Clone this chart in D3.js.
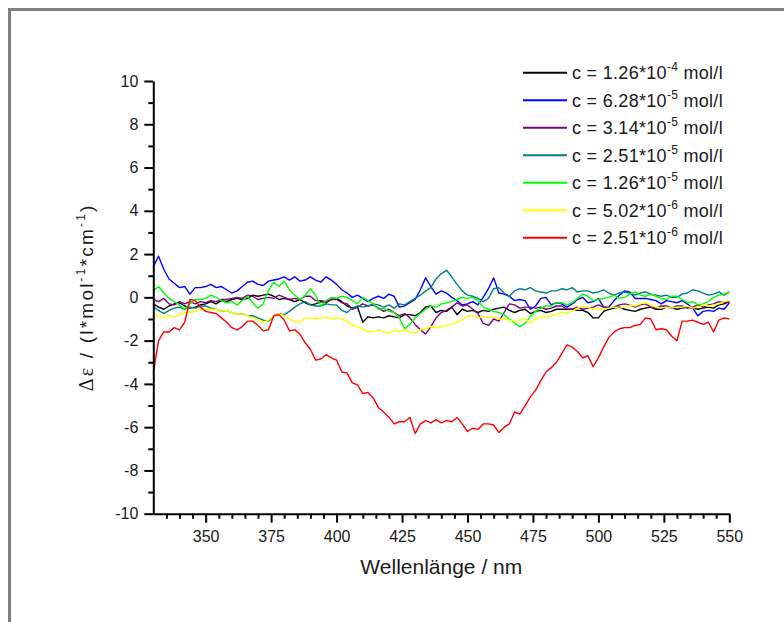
<!DOCTYPE html>
<html>
<head>
<meta charset="utf-8">
<script src="https://cdn.jsdelivr.net/npm/d3@7"></script>
<style>
  html, body { margin: 0; padding: 0; background: #ffffff; }
  svg { display: block; }
  text { font-family: "Liberation Sans", Arial, sans-serif; fill: #1a1a1a; }
</style>
</head>
<body>
<svg id="chart" width="784" height="622"></svg>
<script>
// ---------- data ----------
const wavelengths = d3.range(330, 551, 2); // nm, 330 ... 550

const c126e4 = [
  -0.3,-0.45,-0.55,-0.4,-0.3,-0.25,-0.4,-0.5,-0.45,-0.35,
  -0.3,-0.2,-0.3,-0.15,-0.2,-0.1,-0.05,-0.1,-0.05,0.1,
  0.05,0.1,0.15,0.05,-0.1,-0.05,-0.1,-0.2,-0.1,-0.25,
  -0.35,-0.3,-0.2,-0.25,-0.1,-0.05,-0.2,-0.4,-0.5,-0.45,
  -1.15,-0.9,-0.95,-0.9,-0.95,-0.85,-0.9,-0.95,-0.8,-0.8,
  -0.85,-0.7,-0.45,-0.4,-0.7,-0.6,-0.65,-0.45,-0.8,-0.55,
  -0.65,-0.6,-0.7,-0.6,-0.65,-0.55,-0.5,-0.45,-0.6,-0.7,
  -0.6,-0.55,-0.75,-0.65,-0.6,-0.7,-0.65,-0.55,-0.55,-0.55,
  -0.55,-0.6,-0.6,-0.7,-0.95,-0.95,-0.65,-0.55,-0.5,-0.45,
  -0.55,-0.6,-0.65,-0.55,-0.5,-0.45,-0.55,-0.55,-0.45,-0.5,
  -0.55,-0.5,-0.45,-0.5,-0.55,-0.5,-0.45,-0.5,-0.35,-0.3,
  -0.2
];
const c628e5 = [
  1.4,1.9,1.3,0.85,0.65,0.45,0.5,0.15,0.45,0.45,
  0.5,0.6,0.45,0.5,0.35,0.2,0.3,0.5,0.7,0.75,
  0.6,0.55,0.75,0.8,0.85,0.95,0.8,0.95,0.75,0.8,
  0.95,0.8,0.7,0.95,0.8,0.6,0.35,0.2,0.0,0.1,
  -0.05,-0.2,-0.05,0.05,-0.05,0.15,0.05,-0.45,-0.4,-0.25,
  -0.1,0.35,0.9,0.5,0.15,0.3,0.2,0.0,-0.15,-0.35,
  -0.3,-0.2,-0.35,0.0,0.4,0.9,0.2,0.15,0.05,-0.15,
  -0.1,-0.15,-0.55,-0.4,-0.05,0.0,-0.35,-0.25,-0.3,-0.45,
  -0.3,-0.1,0.0,-0.25,-0.2,-0.05,-0.45,-0.45,-0.15,0.1,
  0.3,0.25,-0.05,-0.05,-0.05,-0.1,-0.15,-0.3,-0.15,-0.2,
  -0.25,-0.15,-0.3,-0.5,-0.85,-0.65,-0.6,-0.65,-0.5,-0.55,
  -0.25
];
const c314e5 = [
  -0.1,-0.2,-0.05,-0.3,-0.35,-0.2,-0.3,-0.2,-0.3,-0.2,
  -0.25,-0.15,-0.2,-0.1,-0.1,-0.05,0.0,-0.05,0.1,0.05,
  -0.1,-0.05,0.0,-0.05,0.1,0.0,-0.1,-0.05,-0.1,0.05,
  0.05,-0.15,-0.15,-0.2,-0.1,-0.1,-0.25,-0.3,-0.55,-0.45,
  -0.3,-0.4,-0.35,-0.5,-0.65,-0.55,-0.7,-0.85,-0.75,-0.95,
  -1.25,-1.5,-1.7,-1.35,-0.95,-0.7,-0.6,-0.45,-0.25,-0.4,
  -0.35,-0.55,-0.75,-1.2,-1.3,-1.0,-1.1,-0.7,-0.3,-0.35,
  -0.5,-0.45,-0.45,-0.5,-0.45,-0.55,-0.5,-0.4,-0.4,-0.55,
  -0.55,-0.45,-0.55,-0.5,-0.45,-0.35,-0.45,-0.5,-0.45,-0.35,
  -0.3,-0.35,-0.45,-0.35,-0.3,-0.45,-0.5,-0.4,-0.4,-0.5,
  -0.4,-0.4,-0.5,-0.45,-0.35,-0.45,-0.35,-0.3,-0.2,-0.25,
  -0.2
];
const c251e5 = [
  -0.45,-0.6,-0.75,-0.6,-0.5,-0.45,-0.55,-0.45,-0.5,-0.4,
  -0.4,-0.5,-0.55,-0.65,-0.6,-0.7,-0.8,-0.75,-0.85,-0.85,
  -0.95,-1.05,-1.1,-0.85,-0.75,-0.8,-0.65,-0.45,-0.3,-0.2,
  -0.35,-0.4,-0.4,-0.3,-0.35,-0.35,-0.6,-0.7,-0.5,-0.4,
  -0.45,-0.4,-0.3,-0.35,-0.45,-0.35,-0.5,-0.3,-0.35,-0.2,
  -0.05,0.1,0.3,0.45,0.85,1.1,1.25,0.95,0.6,0.3,
  0.1,0.05,-0.05,-0.2,-0.05,0.4,0.45,0.2,0.05,0.3,
  0.4,0.35,0.45,0.3,0.25,0.2,0.3,0.3,0.4,0.35,
  0.45,0.25,0.3,0.3,0.2,0.25,0.35,0.2,0.1,0.2,
  0.25,0.2,0.1,0.2,0.25,0.15,0.1,0.05,0.1,0.0,
  0.0,0.15,0.2,0.35,0.3,0.2,0.1,0.15,0.25,0.1,
  0.25
];
const c126e5 = [
  0.3,0.5,0.2,-0.05,-0.2,-0.35,-0.55,-0.3,-0.1,-0.1,
  -0.05,0.1,0.0,-0.15,-0.25,-0.2,-0.35,-0.15,0.05,-0.25,
  -0.5,-0.3,0.3,0.7,0.5,0.75,0.35,0.1,-0.1,0.1,
  0.4,0.1,-0.4,-0.15,0.0,-0.05,0.05,0.0,-0.15,-0.3,
  0.0,-0.15,-0.3,-0.55,-0.5,-0.65,-0.7,-0.95,-1.45,-1.25,
  -0.95,-0.75,-0.55,-0.4,-0.45,-0.3,-0.25,-0.2,-0.1,0.0,
  -0.05,0.0,-0.15,-0.45,-0.55,-0.65,-0.7,-0.8,-1.0,-1.2,
  -1.35,-1.2,-0.9,-0.65,-0.5,-0.4,-0.4,-0.25,-0.25,-0.35,
  -0.25,-0.05,0.15,0.05,-0.15,-0.1,-0.05,0.0,0.1,-0.05,
  0.0,0.15,0.25,0.1,0.05,0.15,0.05,-0.05,-0.1,0.05,
  0.05,-0.1,-0.25,-0.2,-0.35,-0.3,-0.2,0.0,0.1,0.15,
  0.25
];
const c502e6 = [
  -0.75,-0.9,-0.95,-0.85,-0.9,-0.8,-0.7,-0.7,-0.65,-0.55,
  -0.55,-0.55,-0.55,-0.65,-0.6,-0.7,-0.8,-0.75,-0.85,-0.95,
  -1.05,-1.15,-1.05,-0.85,-0.75,-0.85,-1.0,-1.1,-1.15,-0.95,
  -0.95,-1.0,-0.95,-0.9,-1.0,-0.95,-1.0,-1.1,-1.3,-1.35,
  -1.45,-1.6,-1.6,-1.5,-1.6,-1.65,-1.5,-1.6,-1.5,-1.6,
  -1.65,-1.5,-1.45,-1.35,-1.4,-1.35,-1.3,-1.25,-1.15,-1.05,
  -0.85,-0.85,-0.95,-0.9,-0.95,-0.9,-1.0,-1.0,-1.05,-1.1,
  -1.05,-1.0,-1.2,-1.0,-0.9,-0.95,-0.85,-0.8,-0.7,-0.7,
  -0.65,-0.5,-0.4,-0.45,-0.55,-0.5,-0.55,-0.5,-0.45,-0.5,
  -0.45,-0.35,-0.4,-0.3,-0.25,-0.35,-0.45,-0.5,-0.45,-0.5,
  -0.45,-0.45,-0.4,-0.5,-0.45,-0.35,-0.4,-0.35,-0.3,-0.2,
  -0.15
];
const c251e6 = [
  -3.5,-2.0,-1.6,-1.6,-1.4,-1.5,-1.15,-0.1,-0.15,-0.45,
  -0.65,-0.7,-0.75,-0.95,-1.15,-1.4,-1.5,-1.35,-1.1,-1.1,
  -1.3,-1.55,-1.5,-0.85,-0.8,-1.05,-1.55,-1.5,-1.7,-2.1,
  -2.4,-2.9,-2.85,-2.65,-2.8,-2.9,-3.45,-3.5,-3.95,-4.05,
  -4.45,-4.4,-4.65,-5.1,-5.3,-5.55,-5.85,-5.75,-5.75,-5.55,
  -6.3,-5.85,-5.7,-5.8,-5.65,-5.8,-5.7,-5.75,-5.55,-5.85,
  -6.2,-6.05,-6.1,-5.85,-5.85,-5.9,-6.25,-6.0,-5.85,-5.3,
  -5.4,-5.0,-4.6,-4.3,-3.85,-3.45,-3.25,-3.0,-2.6,-2.2,
  -2.3,-2.5,-2.8,-2.7,-3.2,-2.8,-2.3,-1.85,-1.6,-1.45,
  -1.4,-1.4,-1.3,-1.25,-0.95,-1.0,-1.5,-1.45,-1.5,-1.8,
  -2.0,-1.1,-1.1,-1.05,-1.15,-1.25,-1.15,-1.6,-1.05,-0.95,
  -1.0
];

const seriesValues = [c126e4, c628e5, c314e5, c251e5, c126e5, c502e6, c251e6];
const seriesColors = ["#000000", "#0000ff", "#800080", "#008080", "#00ff00", "#ffff00", "#ff0000"];
const legendMantissa = ["1.26", "6.28", "3.14", "2.51", "1.26", "5.02", "2.51"];
const legendExponent = ["-4", "-5", "-5", "-5", "-5", "-6", "-6"];

const xMajorTicks = [350, 375, 400, 425, 450, 475, 500, 525, 550];
const xMinorTicks = d3.range(335, 550, 5).filter(v => (v - 350) % 25 !== 0);
const yMajorTicks = [-10, -8, -6, -4, -2, 0, 2, 4, 6, 8, 10];
const yMinorTicks = [-9, -7, -5, -3, -1, 1, 3, 5, 7, 9];

// ---------- layout ----------
const svg = d3.select("#chart");
const plot = { left: 153.3, right: 729.3, top: 81, bottom: 513.7 };

// outer frame (top & left edges, grey)
svg.append("rect").attr("x", 8).attr("y", 8).attr("width", 776).attr("height", 3).attr("fill", "#808080");
svg.append("rect").attr("x", 8).attr("y", 8).attr("width", 3).attr("height", 614).attr("fill", "#808080");

const x = d3.scaleLinear().domain([330, 550]).range([plot.left, plot.right]);
const y = d3.scaleLinear().domain([-10, 10]).range([plot.bottom, plot.top]);

// data lines
const line = d3.line()
  .x((d, i) => x(wavelengths[i]))
  .y(d => y(d));

const linesG = svg.append("g");
seriesValues.forEach((vals, k) => {
  linesG.append("path")
    .datum(vals)
    .attr("d", line)
    .attr("fill", "none")
    .attr("stroke", seriesColors[k])
    .attr("stroke-width", 1.4)
    .attr("stroke-linejoin", "round");
});

// axes
const fmt = d => String(d);

const xAxisG = svg.append("g").attr("transform", `translate(0,${plot.bottom})`);
xAxisG.call(d3.axisBottom(x).tickValues(xMinorTicks).tickSize(5).tickSizeOuter(0).tickFormat(""));
xAxisG.call(g => g.select(".domain").remove());
const xMajG = svg.append("g").attr("transform", `translate(0,${plot.bottom})`);
xMajG.call(d3.axisBottom(x).tickValues(xMajorTicks).tickSize(9).tickSizeOuter(0).tickPadding(8).tickFormat(fmt));

const yAxisG = svg.append("g").attr("transform", `translate(${plot.left},0)`);
yAxisG.call(d3.axisLeft(y).tickValues(yMinorTicks).tickSize(5).tickSizeOuter(0).tickFormat(""));
yAxisG.call(g => g.select(".domain").remove());
const yMajG = svg.append("g").attr("transform", `translate(${plot.left},0)`);
yMajG.call(d3.axisLeft(y).tickValues(yMajorTicks).tickSize(9).tickSizeOuter(0).tickPadding(6).tickFormat(fmt));

svg.selectAll(".domain").attr("stroke", "#000").attr("stroke-width", 2);
svg.selectAll(".tick line").attr("stroke", "#000").attr("stroke-width", 2);
svg.selectAll(".tick text")
  .attr("font-family", "Liberation Sans, Arial, sans-serif")
  .attr("font-size", 16)
  .attr("fill", "#1a1a1a");

// axis titles
svg.append("text")
  .attr("x", (plot.left + plot.right) / 2)
  .attr("y", 574)
  .attr("text-anchor", "middle")
  .attr("font-size", 21)
  .text("Wellenlänge / nm");

const yTitle = svg.append("text")
  .attr("transform", `translate(93,${(plot.top + plot.bottom) / 2}) rotate(-90)`)
  .attr("text-anchor", "middle")
  .attr("font-size", 19)
  .attr("letter-spacing", 2.2)
  .style("white-space", "pre");
yTitle.append("tspan").attr("font-family", "Liberation Serif, serif").attr("font-size", 20).text("Δε");
yTitle.append("tspan").text(" / (l*mol");
yTitle.append("tspan").attr("font-size", 12).attr("dy", -8).text("-1");
yTitle.append("tspan").attr("dy", 8).text("*cm");
yTitle.append("tspan").attr("font-size", 12).attr("dy", -8).text("-1");
yTitle.append("tspan").attr("dy", 8).text(")");

// legend
const legendG = svg.append("g");
const legendY0 = 72.7, legendStep = 27.5;
seriesColors.forEach((col, k) => {
  const ly = legendY0 + k * legendStep;
  legendG.append("line")
    .attr("x1", 523).attr("x2", 567)
    .attr("y1", ly).attr("y2", ly)
    .attr("stroke", col).attr("stroke-width", 2);
  const t = legendG.append("text")
    .attr("x", 572).attr("y", ly + 6.5)
    .attr("font-size", 18)
    .attr("letter-spacing", 0.3)
    .style("white-space", "pre");
  t.append("tspan").text(`c = ${legendMantissa[k]}*10`);
  t.append("tspan").attr("font-size", 12).attr("dy", -8).text(legendExponent[k]);
  t.append("tspan").attr("dy", 8).text(" mol/l");
});
</script>
</body>
</html>
